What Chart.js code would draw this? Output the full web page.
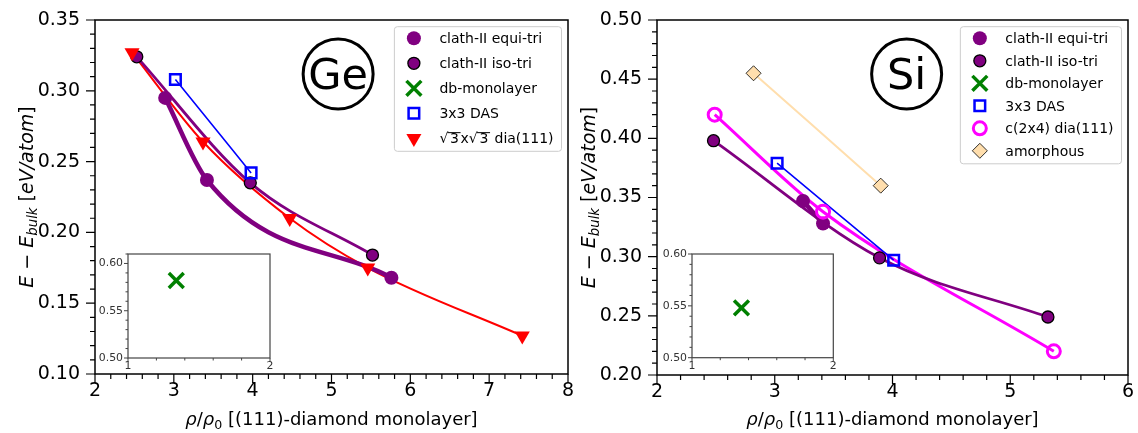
<!DOCTYPE html>
<html>
<head>
<meta charset="utf-8">
<title>Surface energies vs density</title>
<script src="https://cdn.jsdelivr.net/npm/chart.js@4.4.1/dist/chart.umd.min.js"></script>
<style>
  body { margin: 0; background: #fff; width: 1138px; height: 433px; position: relative; overflow: hidden; }
  canvas { position: absolute; }
</style>
</head>
<body>
<canvas id="geChart" style="left:0;top:0" width="580" height="433"></canvas>
<canvas id="siChart" style="left:580px;top:0" width="558" height="433"></canvas>
<canvas id="geInset" style="left:96px;top:240px" width="190" height="140"></canvas>
<canvas id="siInset" style="left:658px;top:240px" width="190" height="140"></canvas>
<script>
// ---- Ge panel ----
const geXTicks = [2, 3, 4, 5, 6, 7, 8];
const geYTicks = [0.10, 0.15, 0.20, 0.25, 0.30, 0.35];
const geEquiX = [2.89, 3.42, 5.76];
const geEquiY = [0.295, 0.237, 0.168];
const geIsoX = [2.53, 3.97, 5.52];
const geIsoY = [0.324, 0.235, 0.184];
const geDbX = [1.34];
const geDbY = [0.582];
const geDasX = [3.02, 3.98];
const geDasY = [0.308, 0.242];
const geSqrtX = [2.47, 3.37, 4.47, 5.46, 7.42];
const geSqrtY = [0.327, 0.264, 0.210, 0.175, 0.127];

// ---- Si panel ----
const siXTicks = [2, 3, 4, 5, 6];
const siYTicks = [0.20, 0.25, 0.30, 0.35, 0.40, 0.45, 0.50];
const siEquiX = [3.24, 3.41];
const siEquiY = [0.347, 0.328];
const siIsoX = [2.48, 3.89, 5.32];
const siIsoY = [0.398, 0.299, 0.249];
const siDbX = [1.35];
const siDbY = [0.548];
const siDasX = [3.02, 4.01];
const siDasY = [0.379, 0.297];
const siC24X = [2.49, 3.41, 5.37];
const siC24Y = [0.420, 0.338, 0.220];
const siAmoX = [2.82, 3.90];
const siAmoY = [0.455, 0.360];

// ---- insets (db-monolayer sits far above the main range) ----
const insetXTicks = [1, 2];
const insetYTicks = [0.50, 0.55, 0.60];

const FAMILY = '"DejaVu Sans"';

const STYLE = {
  equi:  { label: 'clath-II equi-tri', pointStyle: 'circle', radius: 7, bg: '#800080', border: '#800080', bw: 0, line: '#800080', lw: 4.5 },
  iso:   { label: 'clath-II iso-tri', pointStyle: 'circle', radius: 6, bg: '#800080', border: '#000000', bw: 1.3, line: '#800080', lw: 2.8 },
  db:    { label: 'db-monolayer', pointStyle: 'crossRot', radius: 10.5, bg: '#008000', border: '#008000', bw: 3.5 },
  das:   { label: '3x3 DAS', pointStyle: 'rect', radius: 7.5, bg: 'rgba(0,0,0,0)', border: '#0000ff', bw: 2.5, line: '#0000ff', lw: 1.6 },
  sqrt3: { label: '√3x√3 dia(111)', pointStyle: 'triangle', rotation: 180, radius: 8.7, bg: '#ff0000', border: '#ff0000', bw: 0, line: '#ff0000', lw: 2 },
  c24:   { label: 'c(2x4) dia(111)', pointStyle: 'circle', radius: 6.5, bg: 'rgba(0,0,0,0)', border: '#ff00ff', bw: 3, line: '#ff00ff', lw: 3 },
  amo:   { label: 'amorphous', pointStyle: 'rectRot', radius: 7.5, bg: '#ffdead', border: '#000000', bw: 0.8, line: '#ffdead', lw: 2 }
};

const X_TITLE = [
  { t: 'ρ', i: true }, { t: '/' }, { t: 'ρ', i: true }, { t: '0', sub: true },
  { t: ' [(111)-diamond monolayer]' }
];
const Y_TITLE = [
  { t: 'E', i: true }, { t: ' − ' }, { t: 'E', i: true }, { t: 'bulk', i: true, sub: true },
  { t: ' [' }, { t: 'eV/atom', i: true }, { t: ']' }
];

// line dataset underneath, marker dataset on top
function seriesSets(xs, ys, s, order) {
  const pts = xs.map((x, k) => ({ x: x, y: ys[k] }));
  const sets = [];
  if (s.line) {
    sets.push({
      data: pts, showLine: true, borderColor: s.line, borderWidth: s.lw,
      pointRadius: 0, pointHoverRadius: 0, cubicInterpolationMode: 'monotone', order: 100
    });
  }
  sets.push({
    data: pts, showLine: false, pointStyle: s.pointStyle, pointRotation: s.rotation || 0,
    pointRadius: s.radius, pointHoverRadius: s.radius, pointBackgroundColor: s.bg,
    pointBorderColor: s.border, pointBorderWidth: s.bw, order: order
  });
  return sets;
}

// tick marks are drawn by the panel plugin; tickLength only offsets the labels
function axisOpts(min, max, ticks, fmt, fit, size, gap, color) {
  return {
    type: 'linear', min: min, max: max,
    grid: { display: false, drawTicks: true, tickLength: gap },
    border: { display: false },
    afterBuildTicks: ax => { ax.ticks = ticks.map(v => ({ value: v })); },
    afterFit: fit,
    ticks: {
      callback: fmt, color: color, padding: 0, autoSkip: false, maxRotation: 0, minRotation: 0,
      font: { family: 'DejaVu Sans', size: size }
    }
  };
}

function drawRich(ctx, parts, size, cx, cy, angle) {
  ctx.save();
  ctx.translate(cx, cy);
  ctx.rotate(angle);
  ctx.fillStyle = '#000';
  ctx.textBaseline = 'alphabetic';
  ctx.textAlign = 'left';
  const fontOf = p => (p.i ? 'italic ' : '') + (p.sub ? size * 0.7 : size) + 'px ' + FAMILY;
  const widths = parts.map(p => { ctx.font = fontOf(p); return ctx.measureText(p.t).width; });
  let x = -widths.reduce((s, w) => s + w, 0) / 2;
  const base = size * 0.36;
  parts.forEach((p, k) => {
    ctx.font = fontOf(p);
    ctx.fillText(p.t, x, base + (p.sub ? size * 0.22 : 0));
    x += widths[k];
  });
  ctx.restore();
}

function drawMarker(ctx, s, x, y) {
  ctx.save();
  ctx.fillStyle = s.bg;
  ctx.strokeStyle = s.border;
  ctx.lineWidth = s.bw;
  Chart.helpers.drawPoint(ctx, { pointStyle: s.pointStyle, rotation: s.rotation || 0, radius: s.radius, borderWidth: s.bw }, x, y);
  ctx.restore();
}

// legend text; a "√" puts an overbar on the following character.
// With dry=true only the width is returned.
function drawLabel(ctx, text, x, y, size, dry) {
  ctx.font = size + 'px ' + FAMILY;
  ctx.textBaseline = 'alphabetic';
  ctx.textAlign = 'left';
  ctx.fillStyle = '#000';
  const base = y + size * 0.36;
  const pad = size * 0.12;
  const parts = text.split('√');
  let cx = x;
  if (!dry) ctx.fillText(parts[0], cx, base);
  cx += ctx.measureText(parts[0]).width;
  for (let k = 1; k < parts.length; k++) {
    const rw = ctx.measureText('√').width;
    const rad = parts[k].charAt(0);
    const aw = ctx.measureText(rad).width;
    const rest = parts[k].slice(1);
    if (!dry) {
      ctx.fillText('√', cx, base);
      ctx.fillRect(cx + rw - 1, base - size * 0.80, aw + pad * 2 + 1, 1);
      ctx.fillText(rad, cx + rw + pad, base);
      ctx.fillText(rest, cx + rw + aw + pad * 2, base);
    }
    cx += rw + aw + pad * 2 + ctx.measureText(rest).width;
  }
  return cx - x;
}

function drawLegend(ctx, a, items, rowH) {
  const size = 14;
  const tw = Math.max(...items.map(s => drawLabel(ctx, s.label, 0, 0, size, true)));
  const w = 45 + tw + 8;
  const h = 11.6 + rowH * (items.length - 1) + 13;
  const x0 = a.right - 6.5 - w;
  const y0 = a.top + 6.7;
  ctx.save();
  ctx.beginPath();
  ctx.roundRect(x0, y0, w, h, 3);
  ctx.fillStyle = 'rgba(255,255,255,0.8)';
  ctx.fill();
  ctx.strokeStyle = '#cccccc';
  ctx.lineWidth = 1;
  ctx.stroke();
  ctx.restore();
  items.forEach((s, k) => {
    const cy = y0 + 11.6 + k * rowH;
    drawMarker(ctx, s, x0 + 19.5, cy);
    drawLabel(ctx, s.label, x0 + 45, cy, size, false);
  });
}

function drawTicks(ctx, chart, c) {
  const a = chart.chartArea;
  const xs = chart.scales.x, ys = chart.scales.y;
  const isMajor = (v, m) => Math.abs(v / m - Math.round(v / m)) < 1e-6;
  ctx.strokeStyle = c.tickColor;
  ctx.lineWidth = c.tickWidth;
  ctx.beginPath();
  const nx = Math.round((xs.max - xs.min) / c.xMinor);
  for (let k = 0; k <= nx; k++) {
    const v = xs.min + k * c.xMinor;
    const px = xs.getPixelForValue(v);
    const len = isMajor(v, c.xMajor) ? c.majorLen : c.minorLen;
    ctx.moveTo(px, a.bottom);
    ctx.lineTo(px, a.bottom + len);
  }
  const ny = Math.round((ys.max - ys.min) / c.yMinor);
  for (let k = 0; k <= ny; k++) {
    const v = ys.min + k * c.yMinor;
    const py = ys.getPixelForValue(v);
    const len = isMajor(v, c.yMajor) ? c.majorLen : c.minorLen;
    ctx.moveTo(a.left, py);
    ctx.lineTo(a.left - len, py);
  }
  ctx.stroke();
}

function panelPlugin(c) {
  return {
    id: 'panel',
    beforeDraw(chart) {
      if (!c.background) return;
      const a = chart.chartArea;
      chart.ctx.save();
      chart.ctx.fillStyle = c.background;
      chart.ctx.fillRect(a.left, a.top, a.right - a.left, a.bottom - a.top);
      chart.ctx.restore();
    },
    afterDraw(chart) {
      const ctx = chart.ctx, a = chart.chartArea;
      ctx.save();
      drawTicks(ctx, chart, c);
      ctx.strokeStyle = c.frameColor;
      ctx.lineWidth = c.frameWidth;
      ctx.strokeRect(a.left, a.top, a.right - a.left, a.bottom - a.top);
      if (c.tag) {
        const cx = a.left + c.tagAt[0] * (a.right - a.left);
        const cy = a.top + c.tagAt[1] * (a.bottom - a.top);
        ctx.beginPath();
        ctx.arc(cx, cy, 35, 0, Math.PI * 2);
        ctx.lineWidth = 3;
        ctx.strokeStyle = '#000';
        ctx.stroke();
        ctx.fillStyle = '#000';
        ctx.font = '43px ' + FAMILY;
        ctx.textAlign = 'center';
        ctx.textBaseline = 'alphabetic';
        ctx.fillText(c.tag, cx, cy + 43 * 0.36);
      }
      if (c.legend) drawLegend(ctx, a, c.legend, c.rowH);
      if (c.xTitle) {
        drawRich(ctx, c.xTitle, c.xTitleSize, (a.left + a.right) / 2, c.xTitleY, 0);
        drawRich(ctx, c.yTitle, c.yTitleSize, a.left - c.yTitleOffset, (a.top + a.bottom) / 2, -Math.PI / 2);
      }
      ctx.restore();
    }
  };
}

function makeChart(id, sets, o, cfg) {
  return new Chart(document.getElementById(id), {
    type: 'scatter',
    data: { datasets: sets },
    options: {
      responsive: false, animation: false, devicePixelRatio: 1,
      layout: { padding: o.padding },
      plugins: { legend: { display: false }, tooltip: { enabled: false } },
      scales: { x: o.x, y: o.y }
    },
    plugins: [panelPlugin(cfg)]
  });
}

const fmtInt = v => String(v);
const fmt2 = v => v.toFixed(2);

const mainTicks = {
  frameColor: '#000', frameWidth: 1.5, tickColor: '#000', tickWidth: 1.2,
  xMinor: 0.2, xMajor: 1, yMinor: 0.01, yMajor: 0.05, majorLen: 9, minorLen: 5,
  xTitle: X_TITLE, yTitle: Y_TITLE, xTitleSize: 18, yTitleSize: 19, xTitleY: 419, yTitleOffset: 69
};
const insetTicks = {
  background: '#ffffff', frameColor: '#444', frameWidth: 1.2, tickColor: '#444', tickWidth: 1,
  xMinor: 0.2, xMajor: 1, yMinor: 0.01, yMajor: 0.05, majorLen: 4, minorLen: 2.5
};

// Ge main
makeChart('geChart', [
  ...seriesSets(geEquiX, geEquiY, STYLE.equi, 50),
  ...seriesSets(geIsoX, geIsoY, STYLE.iso, 49),
  ...seriesSets(geDasX, geDasY, STYLE.das, 47),
  ...seriesSets(geSqrtX, geSqrtY, STYLE.sqrt3, 46)
], {
  padding: { top: 20, right: 12, left: 0, bottom: 0 },
  x: axisOpts(2, 8, geXTicks, fmtInt, ax => { ax.height = 59; }, 19, 6, '#000'),
  y: axisOpts(0.10, 0.35, geYTicks, fmt2, ax => { ax.width = 95; }, 19, 15, '#000')
}, Object.assign({}, mainTicks, {
  tag: 'Ge', tagAt: [0.514, 0.1525], rowH: 25,
  legend: [STYLE.equi, STYLE.iso, STYLE.db, STYLE.das, STYLE.sqrt3]
}));

// Si main
makeChart('siChart', [
  ...seriesSets(siEquiX, siEquiY, STYLE.equi, 50),
  ...seriesSets(siIsoX, siIsoY, STYLE.iso, 49),
  ...seriesSets(siDasX, siDasY, STYLE.das, 47),
  ...seriesSets(siC24X, siC24Y, STYLE.c24, 46),
  ...seriesSets(siAmoX, siAmoY, STYLE.amo, 45)
], {
  padding: { top: 20, right: 8, left: 0, bottom: 0 },
  x: axisOpts(2, 6, siXTicks, fmtInt, ax => { ax.height = 58; }, 19, 6, '#000'),
  y: axisOpts(0.20, 0.50, siYTicks, fmt2, ax => { ax.width = 77; }, 19, 15, '#000')
}, Object.assign({}, mainTicks, {
  tag: 'Si', tagAt: [0.530, 0.152], rowH: 22.5,
  legend: [STYLE.equi, STYLE.iso, STYLE.db, STYLE.das, STYLE.c24, STYLE.amo]
}));

// insets
makeChart('geInset', seriesSets(geDbX, geDbY, STYLE.db, 1), {
  padding: { top: 12, right: 16, left: 0, bottom: 0 },
  x: axisOpts(1, 2, insetXTicks, fmtInt, ax => { ax.height = 22; }, 10.9, 2, '#333'),
  y: axisOpts(0.50, 0.61, insetYTicks, fmt2, ax => { ax.width = 32; }, 10.9, 5, '#333')
}, insetTicks);

makeChart('siInset', seriesSets(siDbX, siDbY, STYLE.db, 1), {
  padding: { top: 12, right: 14.7, left: 0, bottom: 0 },
  x: axisOpts(1, 2, insetXTicks, fmtInt, ax => { ax.height = 22.3; }, 10.9, 2, '#333'),
  y: axisOpts(0.50, 0.60, insetYTicks, fmt2, ax => { ax.width = 34; }, 10.9, 5, '#333')
}, insetTicks);
</script>
</body>
</html>
